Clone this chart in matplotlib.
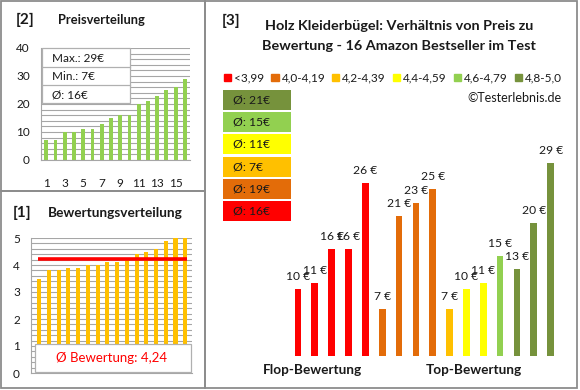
import matplotlib
matplotlib.use('Agg')
import matplotlib.pyplot as plt
from matplotlib.patches import Rectangle
import numpy as np

W, H = 580, 390
plt.rcParams['font.family'] = ['Lato', 'DejaVu Sans']

# ---------------- data ----------------
price_sorted = [7, 7, 10, 10, 11, 11, 13, 15, 16, 16, 20, 21, 23, 25, 26, 29]
price_xticks = [1, 3, 5, 7, 9, 11, 13, 15]
price_yticks = [0, 10, 20, 30, 40]
info_lines = ['Max.: 29€', 'Min.: 7€', 'Ø: 16€']

rating_sorted = [3.5, 3.8, 3.8, 3.9, 3.9, 4.0, 4.0, 4.1, 4.1, 4.2, 4.4, 4.5, 4.6, 4.9, 5.0, 5.0]
rating_mean = 4.24
rating_yticks = [0, 1, 2, 3, 4, 5]
mean_label = 'Ø Bewertung: 4,24'

bar_prices = [10, 11, 16, 16, 26, 7, 21, 23, 25, 7, 10, 11, 15, 13, 20, 29]
bar_groups = [0, 0, 0, 0, 0, 1, 1, 1, 1, 2, 3, 3, 4, 5, 5, 5]
group_labels = ['<3,99', '4,0-4,19', '4,2-4,39', '4,4-4,59', '4,6-4,79', '4,8-5,0']
group_colors = ['#FF0000', '#E36C09', '#FFC000', '#FFFF00', '#92D050', '#76923C']
group_means = ['Ø: 16€', 'Ø: 19€', 'Ø: 7€', 'Ø: 11€', 'Ø: 15€', 'Ø: 21€']

TXT = '#1a1a1a'
GRID = '#A6A6A6'
BORDER = '#8C8C8C'

fig = plt.figure(figsize=(W / 100, H / 100), dpi=100)
fig.patch.set_facecolor('white')


def add_ax(l, t, r, b):
    return fig.add_axes([l / W, 1 - b / H, (r - l) / W, (b - t) / H])


def ftext(x, y, s, **kw):
    kw.setdefault('color', TXT)
    return fig.text(x / W, 1 - y / H, s, **kw)


def frect(l, t, r, b, **kw):
    rect = Rectangle((l / W, 1 - b / H), (r - l) / W, (b - t) / H,
                     transform=fig.transFigure, **kw)
    fig.add_artist(rect)
    return rect


# ---------------- panel borders ----------------
frect(1, 1, 205, 191, fill=False, ec=BORDER, lw=1.3, zorder=5)
frect(1, 191, 205, 388, fill=False, ec=BORDER, lw=1.3, zorder=5)
frect(205, 1, 577, 388, fill=False, ec=BORDER, lw=1.3, zorder=5)

# ---------------- [2] Preisverteilung ----------------
ftext(16, 20, '[2]', fontsize=11, fontweight='bold', va='center')
ftext(58, 20, 'Preisverteilung', fontsize=9.3, fontweight='bold', va='center')

ax1 = add_ax(41, 48, 190, 160)
ax1.bar(range(1, 17), price_sorted, width=0.42, color='#92D050', zorder=2)
ax1.set_xlim(0.43, 16.55)
ax1.set_ylim(0, 40)
ax1.set_yticks(price_yticks)
ax1.set_yticks(np.arange(0, 41, 2), minor=True)
ax1.set_xticks(price_xticks)
ax1.yaxis.grid(True, which='both', color=GRID, lw=0.8, zorder=0)
ax1.set_axisbelow(True)
ax1.tick_params(which='both', length=0, labelsize=8.5, labelcolor=TXT)
ax1.tick_params(axis='x', pad=13)
ax1.tick_params(axis='y', pad=8)
for s in ['top', 'right']:
    ax1.spines[s].set_visible(False)
for s in ['left', 'bottom']:
    ax1.spines[s].set_color(GRID)

# info box
frect(42, 48, 130, 103, fc='white', ec='#B0B0B0', lw=0.9, zorder=3)
for yy in (67, 85):
    fig.add_artist(plt.Line2D([42 / W, 130 / W], [1 - yy / H, 1 - yy / H],
                              transform=fig.transFigure, color='#B0B0B0', lw=0.9, zorder=3))
for k, line in enumerate(info_lines):
    ftext(52, 58 + k * 18.5, line, fontsize=8.5, va='center', zorder=4)

# ---------------- [1] Bewertungsverteilung ----------------
ftext(13, 213, '[1]', fontsize=11, fontweight='bold', va='center')
ftext(48, 213, 'Bewertungsverteilung', fontsize=9.8, fontweight='bold', va='center')

ax2 = add_ax(31, 238, 192, 373)
ax2.bar(range(1, 17), rating_sorted, width=0.42, color='#FFC000', zorder=2)
ax2.hlines(rating_mean, 0.85, 16.2, color='#FF0000', lw=2.6, zorder=3)
ax2.set_xlim(0.15, 16.7)
ax2.set_ylim(0, 5)
ax2.set_yticks(rating_yticks)
ax2.set_yticks(np.arange(0, 5.01, 0.2), minor=True)
ax2.set_xticks([])
ax2.yaxis.grid(True, which='both', color=GRID, lw=0.8, zorder=0)
ax2.set_axisbelow(True)
ax2.tick_params(which='both', length=0, labelsize=8.5, labelcolor=TXT)
ax2.tick_params(axis='y', pad=8)
for s in ['top', 'right']:
    ax2.spines[s].set_visible(False)
for s in ['left', 'bottom']:
    ax2.spines[s].set_color(GRID)

frect(35, 344, 191, 372, fc='white', ec='#B0B0B0', lw=0.9, zorder=3)
ftext(112, 358.5, mean_label, fontsize=9.5, color='#FF0000', ha='center', va='center', zorder=4)

# ---------------- [3] Preis zu Bewertung ----------------
ftext(222, 21, '[3]', fontsize=11, fontweight='bold', va='center')
ftext(399, 26, 'Holz Kleiderbügel: Verhältnis von Preis zu', fontsize=10.4,
      fontweight='bold', ha='center', va='center')
ftext(399, 46, 'Bewertung - 16 Amazon Bestseller im Test', fontsize=10.4,
      fontweight='bold', ha='center', va='center')

handles = [Rectangle((0, 0), 1, 1, color=c) for c in group_colors]
fig.legend(handles, group_labels, ncol=6, loc='center',
           bbox_to_anchor=(393 / W, 1 - 78 / H), frameon=False,
           handlelength=0.6, handleheight=0.6, handletextpad=0.25,
           columnspacing=0.6, fontsize=8.5, borderpad=0, labelcolor=TXT)
ftext(562, 98, '©Testerlebnis.de', fontsize=9, ha='right', va='center')

for g in range(6):
    top = 201 - g * 22.2
    frect(223, top, 291, top + 20, fc=group_colors[g], ec='none', zorder=3)
    ftext(233, top + 10, group_means[g], fontsize=8.7, va='center', zorder=4)

ax3 = add_ax(280, 100, 570, 356)
xs = np.arange(len(bar_prices))
ax3.bar(xs, bar_prices, width=0.4, color=[group_colors[g] for g in bar_groups])
for x, v in zip(xs, bar_prices):
    ax3.annotate(f'{v} €', (x, v), xytext=(0, 5), textcoords='offset points',
                 ha='center', va='bottom', fontsize=8.7, color=TXT)
ax3.set_xlim(-1.07, 16.15)
ax3.set_ylim(0, 38.4)
ax3.axis('off')

ftext(312, 370, 'Flop-Bewertung', fontsize=9.8, fontweight='bold', ha='center', va='center')
ftext(474, 370, 'Top-Bewertung', fontsize=9.8, fontweight='bold', ha='center', va='center')

fig.savefig('out.png', dpi=100, facecolor='white')
